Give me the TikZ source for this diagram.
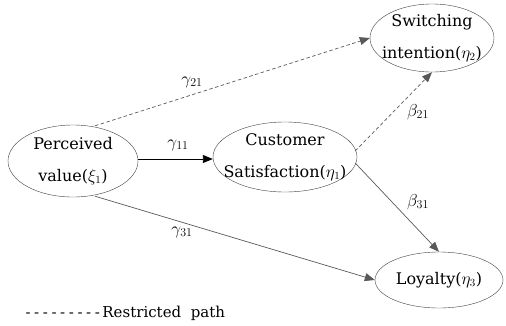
\documentclass[tikz,border=0pt]{standalone}
\usepackage{fontspec}
\setmainfont{DejaVu Serif}
\usetikzlibrary{arrows.meta,shapes.geometric}
\newcommand{\dsh}{{-}\kern3.6pt}
\begin{document}
\begin{tikzpicture}[x=1pt,y=-1pt,
  lat/.style={draw=black!75,ellipse,inner sep=0pt},
  ltxt/.style={font=\fontsize{16}{32}\selectfont,align=center,inner sep=0pt},
  pth/.style={-{Triangle[length=10pt,width=8pt]},black!65,line width=0.7pt},
  rpath/.style={pth,dash pattern=on 3.5pt off 2.5pt},
  lbl/.style={font=\fontsize{18}{20}\selectfont}]
\useasboundingbox (0,0) rectangle (506,325);
\node[lat,minimum width=130pt,minimum height=72pt] (pv) at (73,161) {};
\node[ltxt] (pvt) at (pv) {Perceived\\value($\xi_1$)};
\node[lat,minimum width=144pt,minimum height=70pt] (cs) at (285,157) {};
\node[ltxt] (cst) at (cs) {Customer\\Satisfaction($\eta_1$)};
\node[lat,minimum width=124pt,minimum height=68pt] (si) at (432,38) {};
\node[ltxt] (sit) at (si) {Switching\\intention($\eta_2$)};
\node[lat,minimum width=128pt,minimum height=56pt] (ly) at (439,280) {};
\node[ltxt] (lyt) at (ly) {Loyalty($\eta_3$)};
\draw[pth,black,line width=0.9pt] (pv.east |- 0,159) -- (cs.west |- 0,159);
\draw[rpath] (pv.north) ++(22,1) coordinate (a1) -- (si.west);
\draw[pth] (pv.south) ++(22,-1) coordinate (a2) -- (ly.west);
\draw[rpath] (cs.east) ++(-2,-6) coordinate (a3) -- (si.south);
\draw[pth] (cs.east) ++(-2,6) coordinate (a4) -- (ly.north);
\node[lbl] (g21) at (192,82) {$\gamma_{21}$};
\node[lbl] (g11) at (178,145) {$\gamma_{11}$};
\node[lbl] (g31) at (182,232) {$\gamma_{31}$};
\node[lbl] (b21) at (418,112) {$\beta_{21}$};
\node[lbl] (b31) at (418,202) {$\beta_{31}$};
\node[anchor=west,font=\fontsize{15}{16}\selectfont] (leg) at (22,313) {\dsh\dsh\dsh\dsh\dsh\dsh\dsh\dsh{-}\,Restricted\ \ path};
\end{tikzpicture}
\end{document}
